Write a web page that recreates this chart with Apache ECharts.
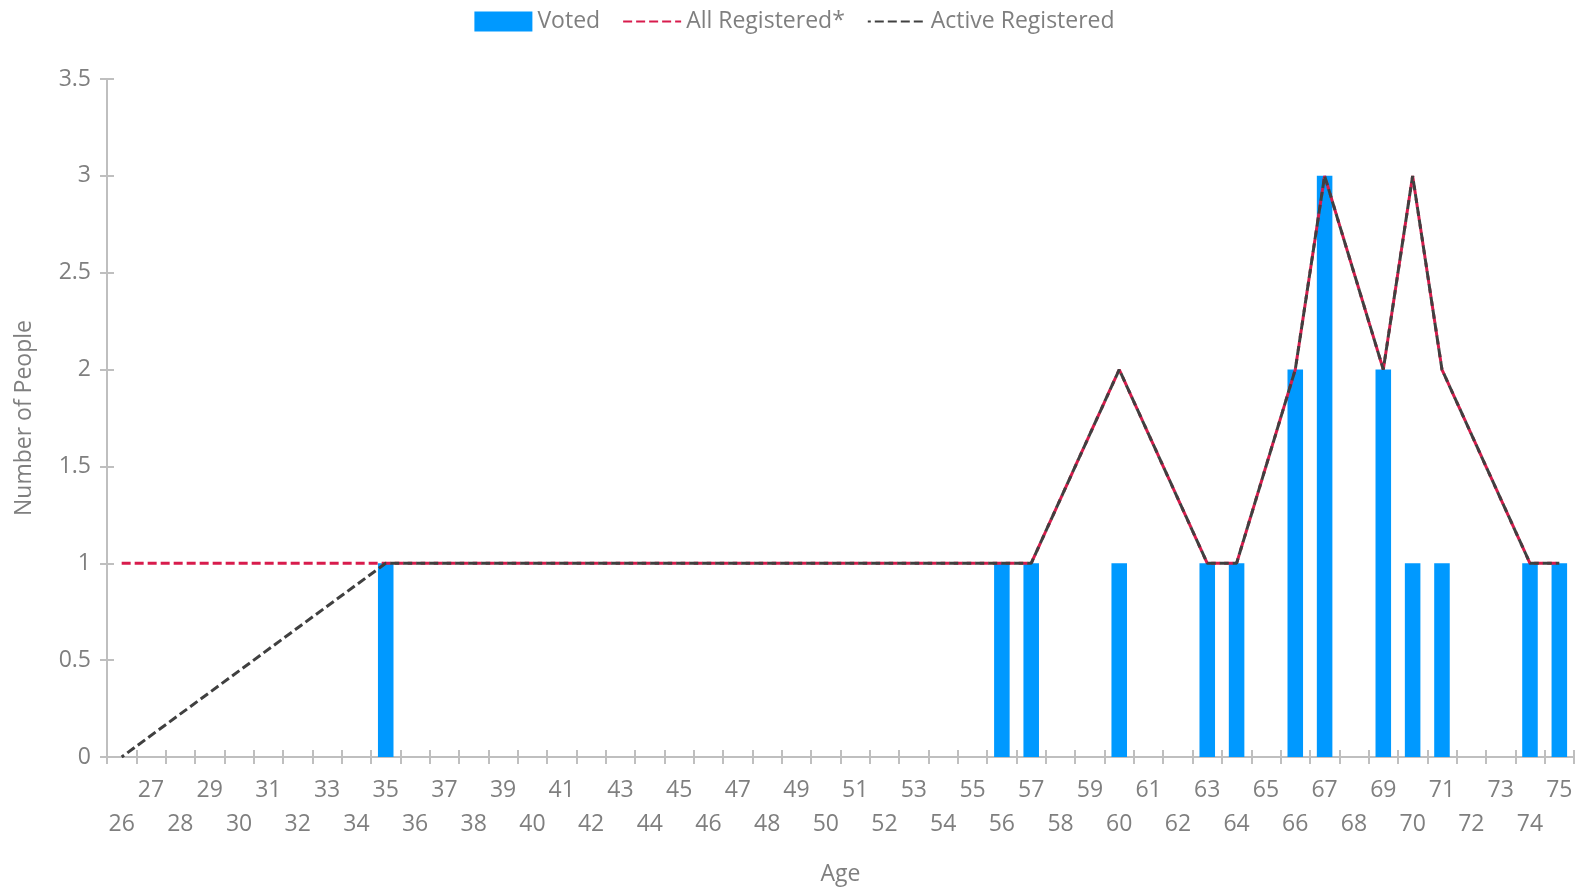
<!DOCTYPE html>
<html>
<head>
<meta charset="utf-8">
<script src="https://cdn.jsdelivr.net/npm/echarts@6/dist/echarts.min.js"></script>
<style>html,body{margin:0;padding:0;background:#fff;}#c{width:1589px;height:888px;}</style>
</head>
<body>
<div id="c"></div>
<script>
const ages = ['26','27','28','29','30','31','32','33','34','35','36','37','38','39','40','41','42','43','44','45','46','47','48','49','50','51','52','53','54','55','56','57','58','59','60','61','62','63','64','65','66','67','68','69','70','71','72','73','74','75'];
// values per age (null = no data point)
const voted = {35:1,56:1,57:1,60:1,63:1,64:1,66:2,67:3,69:2,70:1,71:1,74:1,75:1};
const allRegistered = {26:1,35:1,56:1,57:1,60:2,63:1,64:1,66:2,67:3,69:2,70:3,71:2,74:1,75:1};
const activeRegistered = {26:0,35:1,56:1,57:1,60:2,63:1,64:1,66:2,67:3,69:2,70:3,71:2,74:1,75:1};
const yTicks = [0,0.5,1,1.5,2,2.5,3,3.5];

const toSeries = (m) => ages.map(a => (m[a] === undefined ? null : m[a]));
const FONT = '"Open Sans", sans-serif';
const TXT = '#7f7f7f';
const AX = '#bfbfbf';

const chart = echarts.init(document.getElementById('c'));
chart.setOption({
  animation: false,
  textStyle: { fontFamily: FONT },
  legend: {
    top: 5, left: 'center',
    itemWidth: 58, itemHeight: 20, itemGap: 22,
    textStyle: { color: TXT, fontSize: 23, fontFamily: FONT },
    data: [
      { name: 'Voted', icon: 'rect' },
      { name: 'All Registered*', itemStyle: { opacity: 0 } },
      { name: 'Active Registered', itemStyle: { opacity: 0 } }
    ]
  },
  grid: { left: 107, right: 15, top: 79, bottom: 131, outerBoundsMode: 'none', containLabel: false },
  xAxis: [{
    type: 'category', data: ages, boundaryGap: true,
    name: 'Age', nameLocation: 'middle', nameGap: 106,
    nameTextStyle: { color: TXT, fontSize: 23, fontFamily: FONT },
    axisLine: { lineStyle: { color: AX, width: 2 } },
    axisTick: { show: true, length: 7, interval: 0, lineStyle: { color: AX, width: 2 } },
    axisLabel: {
      interval: 0, color: TXT, fontSize: 23, fontFamily: FONT, margin: 16, lineHeight: 34,
      formatter: (v, i) => (i % 2 === 0 ? '\n' + v : v)
    },
    splitLine: { show: false }
  }, {
    type: 'category', data: ages, boundaryGap: true, position: 'bottom',
    axisLine: { show: false },
    axisTick: { show: true, inside: true, length: 7, interval: 0, lineStyle: { color: AX, width: 2 } },
    axisLabel: { show: false }, splitLine: { show: false }
  }],
  yAxis: [{
    type: 'value', min: yTicks[0], max: yTicks[yTicks.length - 1], interval: 0.5,
    name: 'Number of People', nameLocation: 'middle', nameGap: 71, nameRotate: 90,
    nameTextStyle: { color: TXT, fontSize: 23, fontFamily: FONT },
    axisLine: { show: true, lineStyle: { color: AX, width: 2 } },
    axisTick: { show: true, length: 7, lineStyle: { color: AX, width: 2 } },
    axisLabel: { color: TXT, fontSize: 23, fontFamily: FONT, margin: 16 },
    splitLine: { show: false }
  }, {
    type: 'value', min: yTicks[0], max: yTicks[yTicks.length - 1], interval: 0.5, position: 'left',
    axisLine: { show: false },
    axisTick: { show: true, inside: true, length: 7, lineStyle: { color: AX, width: 2 } },
    axisLabel: { show: false }, splitLine: { show: false }
  }],
  series: [
    {
      name: 'Voted', type: 'bar', data: toSeries(voted), barWidth: '53%',
      itemStyle: { color: '#0099ff' }, z: 2
    },
    {
      name: 'All Registered*', type: 'line', data: toSeries(allRegistered), connectNulls: true,
      symbol: 'none', lineStyle: { color: '#d81b4c', width: 3, type: [9, 4] },
      itemStyle: { color: '#d81b4c' }, z: 3
    },
    {
      name: 'Active Registered', type: 'line', data: toSeries(activeRegistered), connectNulls: true,
      symbol: 'none', lineStyle: { color: '#404040', width: 3, type: [9, 4], dashOffset: 6 },
      itemStyle: { color: '#404040' }, z: 4
    }
  ]
});
</script>
</body>
</html>
